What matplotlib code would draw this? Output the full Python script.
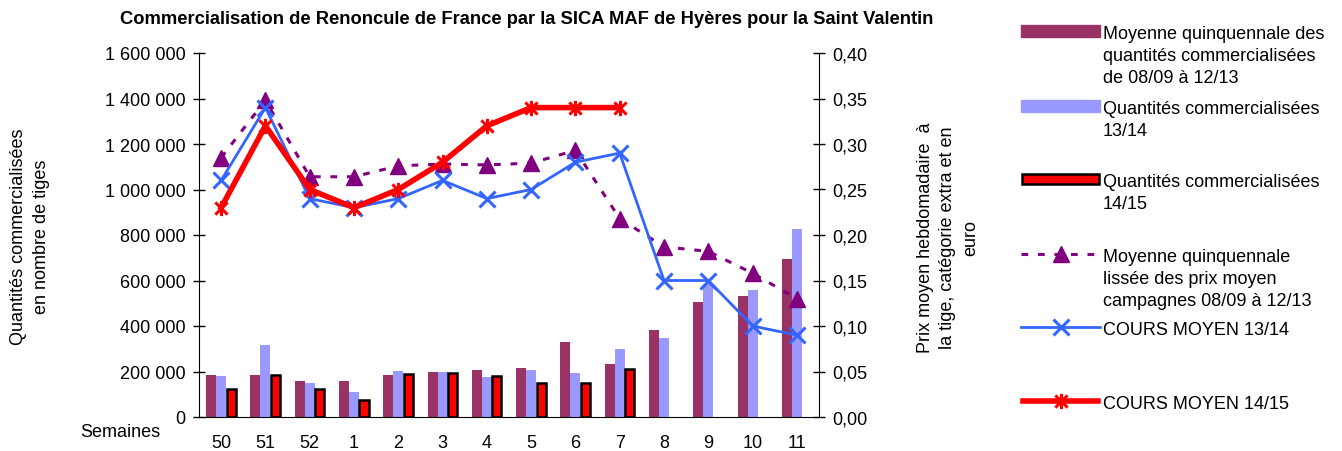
import numpy as np
import matplotlib
matplotlib.use("Agg")
import matplotlib.pyplot as plt
from matplotlib.path import Path
from matplotlib.lines import Line2D
from matplotlib.patches import Rectangle
from matplotlib.ticker import FuncFormatter, MultipleLocator

plt.rcParams['font.family'] = ['Liberation Sans', 'DejaVu Sans']

weeks = ["50", "51", "52", "1", "2", "3", "4", "5", "6", "7", "8", "9", "10", "11"]
qty_avg = [185000, 185000, 158000, 158000, 185000, 198000, 206000, 215000, 330000, 233000, 382000, 505000, 532000, 695000]
qty_1314 = [180000, 316000, 149000, 110000, 202000, 198000, 176000, 206000, 193000, 299000, 347000, 585000, 558000, 826000]
qty_1415 = [123000, 186000, 123000, 76000, 189000, 192000, 180000, 151000, 148000, 212000, np.nan, np.nan, np.nan, np.nan]
price_avg = [0.285, 0.348, 0.264, 0.264, 0.276, 0.278, 0.277, 0.279, 0.293, 0.218, 0.187, 0.182, 0.158, 0.130]
price_1314 = [0.26, 0.34, 0.24, 0.23, 0.24, 0.26, 0.24, 0.25, 0.28, 0.29, 0.15, 0.15, 0.10, 0.09]
price_1415 = [0.23, 0.32, 0.25, 0.23, 0.25, 0.28, 0.32, 0.34, 0.34, 0.34, np.nan, np.nan, np.nan, np.nan]

labels = [
    "Moyenne quinquennale des\nquantités commercialisées\nde 08/09 à 12/13",
    "Quantités commercialisées\n13/14",
    "Quantités commercialisées\n14/15",
    "Moyenne quinquennale\nlissée des prix moyen\ncampagnes 08/09 à 12/13",
    "COURS MOYEN 13/14",
    "COURS MOYEN 14/15",
]

C_PURPLE = "#993366"
C_LBLUE = "#9999FF"
C_RED = "#FF0000"
C_DPURPLE = "#800080"
C_BLUE = "#3366FF"

W, H = 1342, 452
fig = plt.figure(figsize=(W / 100, H / 100), dpi=100)
fx = lambda px: px / W
fy = lambda py: 1 - py / H

ax = fig.add_axes([fx(199), fy(418), fx(819) - fx(199), fy(54) - fy(418)])
ax2 = ax.twinx()

x = np.arange(len(weeks))
bw = 0.226
ax.bar(x - bw, qty_avg, bw, color=C_PURPLE, zorder=2)
ax.bar(x, qty_1314, bw, color=C_LBLUE, zorder=2)
ax.bar(x + bw, qty_1415, bw * 0.92, color=C_RED, edgecolor="black", linewidth=1.8, zorder=3)

ax.set_xlim(-0.5, len(weeks) - 0.5)
ax.set_ylim(0, 1600000)
ax.yaxis.set_major_locator(MultipleLocator(200000))
ax.yaxis.set_major_formatter(FuncFormatter(lambda v, p: f"{int(v):,}".replace(",", " ")))
ax.set_xticks(x)
ax.set_xticklabels(weeks)

ax2.set_ylim(0, 0.40)
ax2.yaxis.set_major_locator(MultipleLocator(0.05))
ax2.yaxis.set_major_formatter(FuncFormatter(lambda v, p: f"{v:.2f}".replace(".", ",")))

# asterisk marker
ast = Path([(-1, -1), (1, 1), (-1, 1), (1, -1), (0, -1.25), (0, 1.25)],
           [Path.MOVETO, Path.LINETO, Path.MOVETO, Path.LINETO, Path.MOVETO, Path.LINETO])

ax2.plot(x, price_avg, color=C_DPURPLE, lw=2.2, dashes=(2.2, 3.2), marker="^", ms=11,
         mfc=C_DPURPLE, mec=C_DPURPLE, zorder=3)
ax2.plot(x, price_1314, color=C_BLUE, lw=2.0, marker="x", ms=11, mew=2.2, zorder=4)
ax2.plot(x, price_1415, color=C_RED, lw=4.0, marker=ast, ms=11, mew=2.2, mec=C_RED, zorder=5)

for a in (ax, ax2):
    a.spines['top'].set_visible(False)
    a.patch.set_visible(False)
for s in ('left', 'right', 'bottom'):
    ax2.spines[s].set_color('black')
    ax.spines[s].set_color('black')
ax.spines['right'].set_visible(False)
ax2.spines['left'].set_visible(False)
ax2.spines['bottom'].set_visible(False)

FS = 13
LS = 1.38
ax.tick_params(axis='y', direction='inout', length=9, width=1, labelsize=FS, pad=5, colors='black')
ax2.tick_params(axis='y', direction='inout', length=9, width=1, labelsize=FS, pad=5, colors='black')
ax.tick_params(axis='x', length=0, labelsize=FS, pad=12)

fig.text(fx(30), fy(237), "Quantités commercialisées\nen nombre de tiges", rotation=90,
         ha='center', va='center', fontsize=FS, linespacing=1.45, multialignment='center')
fig.text(fx(948), fy(238), "Prix moyen hebdomadaire  à\nla tige, catégorie extra et en\neuro", rotation=90,
         ha='center', va='center', fontsize=FS, linespacing=1.45, multialignment='center')
fig.text(fx(120), fy(433), "Semaines", ha='center', va='center', fontsize=FS)

fig.text(fx(527), fy(20), "Commercialisation de Renoncule de France par la SICA MAF de Hyères pour la Saint Valentin",
         ha='center', va='center', fontsize=13.2, fontweight='bold')

# manual legend
hx0, hx1, tx = 1021, 1100, 1103
rows = [32, 107, 180, 255, 328, 402]
fig.add_artist(Rectangle((fx(hx0), fy(rows[0] + 6)), fx(hx1) - fx(hx0), fy(rows[0] - 6) - fy(rows[0] + 6),
                         transform=fig.transFigure, color=C_PURPLE))
fig.add_artist(Rectangle((fx(hx0), fy(rows[1] + 6)), fx(hx1) - fx(hx0), fy(rows[1] - 6) - fy(rows[1] + 6),
                         transform=fig.transFigure, color=C_LBLUE))
fig.add_artist(Rectangle((fx(hx0 + 1), fy(rows[2] + 5)), fx(hx1 - 1) - fx(hx0 + 1), fy(rows[2] - 5) - fy(rows[2] + 5),
                         transform=fig.transFigure, facecolor=C_RED, edgecolor='black', linewidth=1.8))
hm = (hx0 + hx1) / 2
fig.add_artist(Line2D([fx(hx0), fx(hx1)], [fy(rows[3])] * 2, transform=fig.transFigure,
                      color=C_DPURPLE, lw=2.2, dashes=(2.2, 3.2)))
fig.add_artist(Line2D([fx(hm)], [fy(rows[3])], transform=fig.transFigure, marker='^', ms=11,
                      color=C_DPURPLE, lw=0))
fig.add_artist(Line2D([fx(hx0), fx(hx1)], [fy(rows[4])] * 2, transform=fig.transFigure,
                      color=C_BLUE, lw=2.0))
fig.add_artist(Line2D([fx(hm)], [fy(rows[4])], transform=fig.transFigure, marker='x', ms=11, mew=2.2,
                      color=C_BLUE, lw=0))
fig.add_artist(Line2D([fx(hx0 + 2), fx(hx1 - 2)], [fy(rows[5])] * 2, transform=fig.transFigure,
                      color=C_RED, lw=4.0))
fig.add_artist(Line2D([fx(hm)], [fy(rows[5])], transform=fig.transFigure, marker=ast, ms=11, mew=2.2,
                      color=C_RED, mec=C_RED, lw=0))
for r, lab in zip(rows, labels):
    fig.text(fx(tx), fy(r - 6), lab, ha='left', va='top', fontsize=FS, linespacing=LS)

fig.savefig("out.png", dpi=100)
